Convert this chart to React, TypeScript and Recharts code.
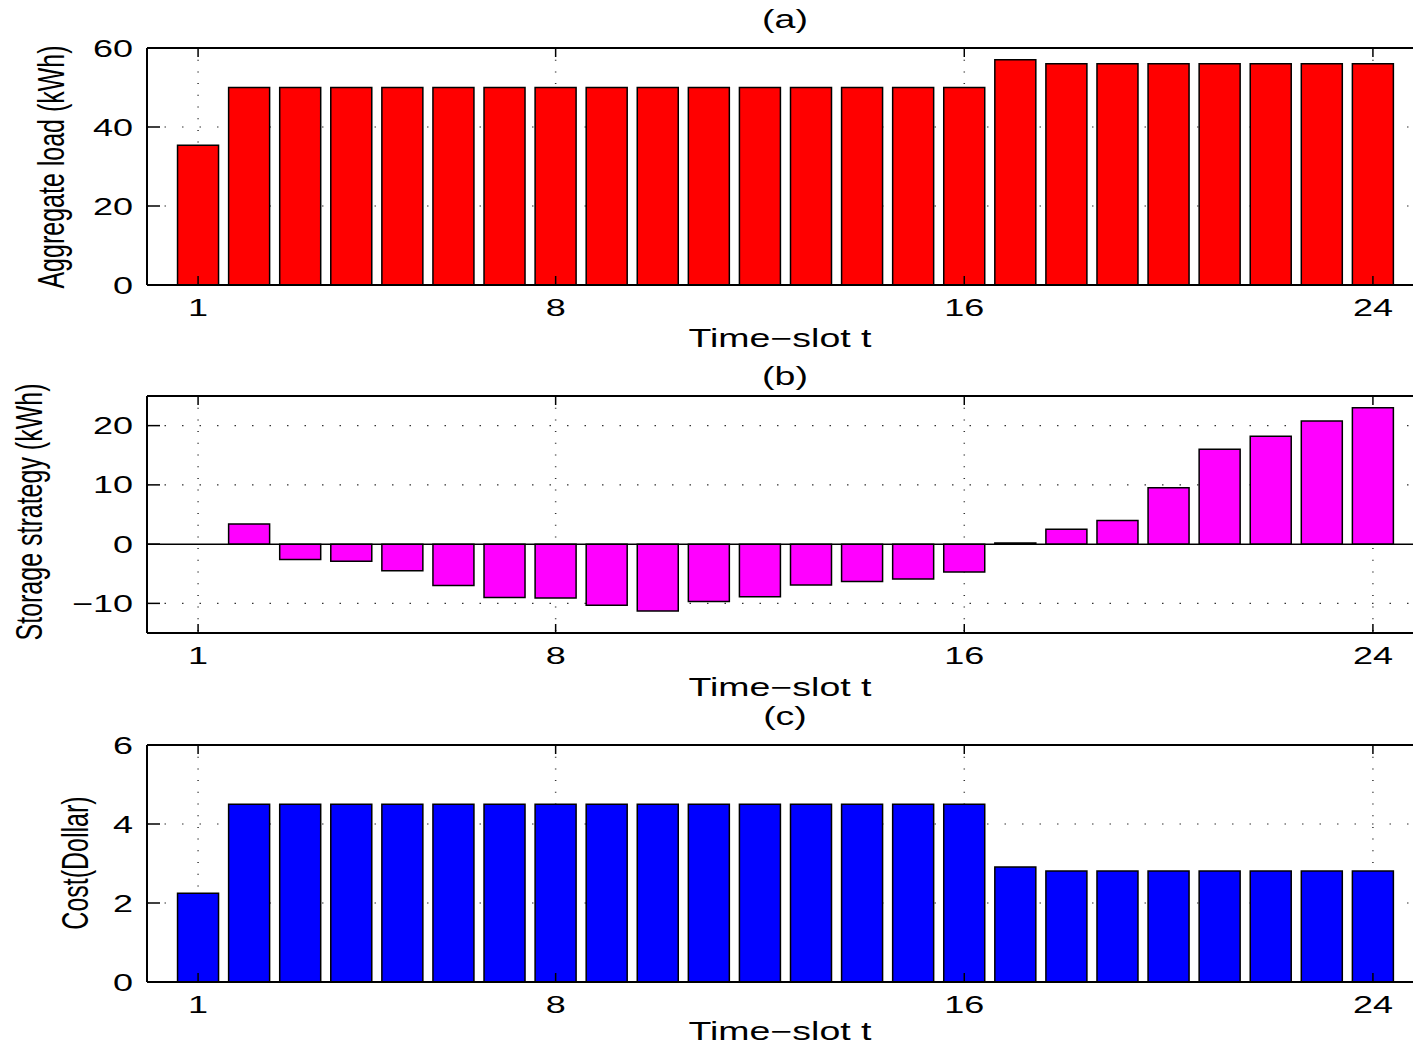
import React from "react"
import { BarChart, Bar, XAxis, YAxis, CartesianGrid, ReferenceLine } from "recharts"

// Time-slots 1..24
const SLOTS = Array.from({ length: 24 }, (_, i) => i + 1)

const AGGREGATE_LOAD = [
  35.4, 50, 50, 50, 50, 50, 50, 50, 50, 50, 50, 50, 50, 50, 50, 50,
  57.0, 56, 56, 56, 56, 56, 56, 56,
]
const STORAGE = [
  0, 3.4, -2.6, -2.9, -4.5, -7.0, -9.0, -9.1, -10.3, -11.3, -9.7, -8.9, -6.9, -6.3, -5.9, -4.7,
  0.2, 2.5, 4.0, 9.5, 16.0, 18.2, 20.8, 23.0,
]
const COST = [
  2.25, 4.5, 4.5, 4.5, 4.5, 4.5, 4.5, 4.5, 4.5, 4.5, 4.5, 4.5, 4.5, 4.5, 4.5, 4.5,
  2.91, 2.81, 2.81, 2.81, 2.81, 2.81, 2.81, 2.81,
]

const X_TICKS = [1, 8, 16, 24]
const LOAD_TICKS = [0, 20, 40, 60]
const STORAGE_TICKS = [-10, 0, 10, 20]
const COST_TICKS = [0, 2, 4, 6]

const FONT = "'Liberation Sans', Arial, Helvetica, sans-serif"
const SX = 1.5 // the figure is stretched horizontally
const FS = 24

const PLOT_H = 237
const TOP = 40
const TOP_AXIS_H = 2
const BOTTOM = 80
const CHART_W = 1440

const fmt = (v: number) => (v < 0 ? "\u2212" + Math.abs(v) : String(v))

function YTick({ x, y, payload }: any) {
  return (
    <g>
      <line x1={x} x2={x + 13} y1={y} y2={y} stroke="#000" strokeWidth={1.5} />
      <text
        transform={`translate(${x - 14},${y + 8.5}) scale(${SX},1)`}
        textAnchor="end"
        fontSize={FS}
        fontFamily={FONT}
        fill="#000"
      >
        {fmt(payload.value)}
      </text>
    </g>
  )
}

function XTick({ x, y, payload }: any) {
  return (
    <g>
      <line x1={x} x2={x} y1={y} y2={y - 9} stroke="#000" strokeWidth={1.5} />
      <text
        transform={`translate(${x},${y + 31}) scale(${SX},1)`}
        textAnchor="middle"
        fontSize={FS}
        fontFamily={FONT}
        fill="#000"
      >
        {payload.value}
      </text>
    </g>
  )
}

function TopTick({ x, y }: any) {
  return <line x1={x} x2={x} y1={y} y2={y + 9} stroke="#000" strokeWidth={1.5} />
}

interface PanelProps {
  values: number[]
  color: string
  domain: [number, number]
  ticks: number[]
  top: number
  zeroLine?: boolean
}

function Panel({ values, color, domain, ticks, top, zeroLine }: PanelProps) {
  const data = SLOTS.map((t, i) => ({ t, v: values[i] }))
  return (
    <div style={{ position: "absolute", left: 0, top: top - TOP }}>
      <BarChart
        width={CHART_W}
        height={TOP + PLOT_H + BOTTOM}
        data={data}
        margin={{ top: TOP - TOP_AXIS_H, right: CHART_W - 1424, bottom: 0, left: 0 }}
      >
        <CartesianGrid
          horizontal
          vertical={false}
          stroke="#333"
          strokeWidth={1.2}
          strokeDasharray="1.5 16"
          horizontalValues={ticks.filter((v) => v !== 0 && v !== domain[1])}
        />
        <CartesianGrid
          horizontal={false}
          vertical
          stroke="#333"
          strokeWidth={1.5}
          strokeDasharray="1 10.7"
        />
        <XAxis
          dataKey="t"
          type="number"
          domain={[0, 25]}
          ticks={X_TICKS}
          allowDataOverflow
          height={BOTTOM}
          tickSize={0}
          tickMargin={0}
          tick={<XTick />}
          axisLine={{ stroke: "#000", strokeWidth: 2 }}
          tickLine={false}
        />
        <XAxis
          xAxisId="top"
          orientation="top"
          dataKey="t"
          type="number"
          domain={[0, 25]}
          ticks={X_TICKS}
          allowDataOverflow
          height={TOP_AXIS_H}
          tickSize={0}
          tickMargin={0}
          tick={<TopTick />}
          axisLine={{ stroke: "#000", strokeWidth: 2 }}
          tickLine={false}
        />
        <YAxis
          type="number"
          domain={domain}
          ticks={ticks}
          allowDataOverflow
          width={147}
          tickSize={0}
          tickMargin={0}
          tick={<YTick />}
          axisLine={{ stroke: "#000", strokeWidth: 2 }}
          tickLine={false}
        />
        <Bar
          dataKey="v"
          fill={color}
          stroke="#000"
          strokeWidth={1.5}
          barSize={41}
          isAnimationActive={false}
        />
        {zeroLine && <ReferenceLine y={0} stroke="#000" strokeWidth={1.5} />}
        <ReferenceLine y={domain[1]} stroke="#000" strokeWidth={2} />
      </BarChart>
    </div>
  )
}

function HText({ x, y, children }: { x: number; y: number; children: React.ReactNode }) {
  return (
    <text
      transform={`translate(${x},${y}) scale(${SX},1)`}
      textAnchor="middle"
      fontSize={FS + 1}
      fontFamily={FONT}
      fill="#000"
    >
      {children}
    </text>
  )
}

function VText({ x, y, children }: { x: number; y: number; children: React.ReactNode }) {
  return (
    <text
      transform={`translate(${x},${y}) scale(${SX},1) rotate(-90)`}
      textAnchor="middle"
      fontSize={25}
      fontFamily={FONT}
      fill="#000"
    >
      {children}
    </text>
  )
}

export default function App() {
  return (
    <div
      style={{
        position: "absolute",
        left: 0,
        top: 0,
        width: 1413,
        height: 1046,
        overflow: "hidden",
        background: "#fff",
      }}
    >
      <Panel values={AGGREGATE_LOAD} color="#ff0000" domain={[0, 60]} ticks={LOAD_TICKS} top={48} />
      <Panel values={STORAGE} color="#ff00ff" domain={[-15, 25]} ticks={STORAGE_TICKS} top={396} zeroLine />
      <Panel values={COST} color="#0000ff" domain={[0, 6]} ticks={COST_TICKS} top={745} />

      <svg
        width={1413}
        height={1046}
        style={{ position: "absolute", left: 0, top: 0, pointerEvents: "none" }}
      >
        <HText x={785} y={28}>(a)</HText>
        <HText x={780} y={347}>Time−slot t</HText>
        <HText x={785} y={385}>(b)</HText>
        <HText x={780} y={696}>Time−slot t</HText>
        <HText x={785} y={725}>(c)</HText>
        <HText x={780} y={1040}>Time−slot t</HText>

        <VText x={64} y={167}>Aggregate load (kWh)</VText>
        <VText x={42} y={512}>Storage strategy (kWh)</VText>
        <VText x={88} y={863}>Cost(Dollar)</VText>
      </svg>
    </div>
  )
}
